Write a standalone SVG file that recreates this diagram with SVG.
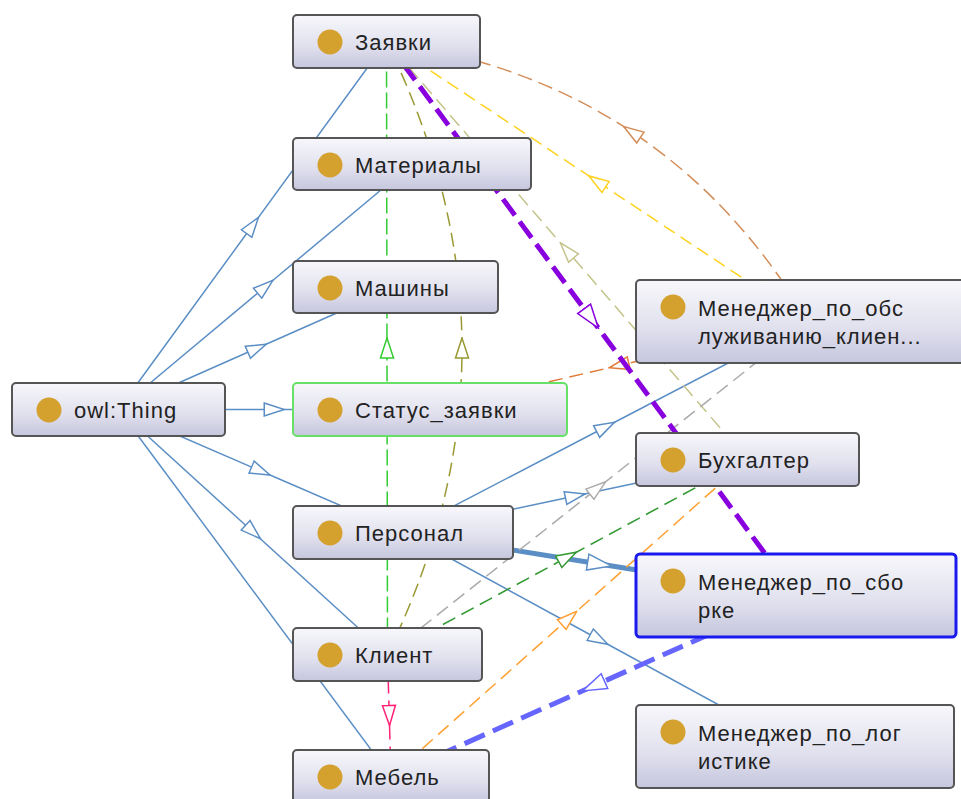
<svg xmlns="http://www.w3.org/2000/svg" width="961" height="799" viewBox="0 0 961 799">
<defs>
<linearGradient id="nodeFill" x1="0" y1="0" x2="0" y2="1">
<stop offset="0" stop-color="#f7f7fb"/>
<stop offset="0.55" stop-color="#e2e2ef"/>
<stop offset="1" stop-color="#c6c6de"/>
</linearGradient>
<marker id="aBlue" viewBox="0 0 22 16" refX="11" refY="8" markerWidth="22" markerHeight="16" markerUnits="userSpaceOnUse" orient="auto"><path d="M1,1.5 L21,8 L1,14.5 Z" fill="#fff" stroke="#5b8ec4" stroke-width="1.5"/></marker>
<marker id="aBlueBig" viewBox="0 0 26 20" refX="13" refY="10" markerWidth="26" markerHeight="20" markerUnits="userSpaceOnUse" orient="auto"><path d="M1,2 L25,10 L1,18 Z" fill="#fff" stroke="#5b8ec4" stroke-width="1.5"/></marker>
<marker id="aGreen" viewBox="0 0 22 16" refX="11" refY="8" markerWidth="22" markerHeight="16" markerUnits="userSpaceOnUse" orient="auto"><path d="M1,1.5 L21,8 L1,14.5 Z" fill="#fff" stroke="#33cc33" stroke-width="1.5"/></marker>
<marker id="aOlive" viewBox="0 0 22 16" refX="11" refY="8" markerWidth="22" markerHeight="16" markerUnits="userSpaceOnUse" orient="auto"><path d="M1,1.5 L21,8 L1,14.5 Z" fill="#fff" stroke="#999933" stroke-width="1.5"/></marker>
<marker id="aKhaki" viewBox="0 0 22 16" refX="11" refY="8" markerWidth="22" markerHeight="16" markerUnits="userSpaceOnUse" orient="auto"><path d="M1,1.5 L21,8 L1,14.5 Z" fill="#fff" stroke="#c4c48a" stroke-width="1.5"/></marker>
<marker id="aYellow" viewBox="0 0 22 16" refX="11" refY="8" markerWidth="22" markerHeight="16" markerUnits="userSpaceOnUse" orient="auto"><path d="M1,1.5 L21,8 L1,14.5 Z" fill="#fff" stroke="#ffd21f" stroke-width="1.5"/></marker>
<marker id="aBrown" viewBox="0 0 22 16" refX="11" refY="8" markerWidth="22" markerHeight="16" markerUnits="userSpaceOnUse" orient="auto"><path d="M1,1.5 L21,8 L1,14.5 Z" fill="#fff" stroke="#d38d58" stroke-width="1.5"/></marker>
<marker id="aOrangeDk" viewBox="0 0 22 16" refX="11" refY="8" markerWidth="22" markerHeight="16" markerUnits="userSpaceOnUse" orient="auto"><path d="M1,1.5 L21,8 L1,14.5 Z" fill="#fff" stroke="#e07a36" stroke-width="1.5"/></marker>
<marker id="aGray" viewBox="0 0 22 16" refX="11" refY="8" markerWidth="22" markerHeight="16" markerUnits="userSpaceOnUse" orient="auto"><path d="M1,1.5 L21,8 L1,14.5 Z" fill="#fff" stroke="#aaaaaa" stroke-width="1.5"/></marker>
<marker id="aDkGreen" viewBox="0 0 22 16" refX="11" refY="8" markerWidth="22" markerHeight="16" markerUnits="userSpaceOnUse" orient="auto"><path d="M1,1.5 L21,8 L1,14.5 Z" fill="#fff" stroke="#339933" stroke-width="1.5"/></marker>
<marker id="aOrange" viewBox="0 0 22 16" refX="11" refY="8" markerWidth="22" markerHeight="16" markerUnits="userSpaceOnUse" orient="auto"><path d="M1,1.5 L21,8 L1,14.5 Z" fill="#fff" stroke="#ffa033" stroke-width="1.5"/></marker>
<marker id="aPink" viewBox="0 0 22 16" refX="11" refY="8" markerWidth="22" markerHeight="16" markerUnits="userSpaceOnUse" orient="auto"><path d="M1,1.5 L21,8 L1,14.5 Z" fill="#fff" stroke="#ff2277" stroke-width="1.5"/></marker>
<marker id="aPurple" viewBox="0 0 26 20" refX="13" refY="10" markerWidth="26" markerHeight="20" markerUnits="userSpaceOnUse" orient="auto"><path d="M1,2 L25,10 L1,18 Z" fill="#fff" stroke="#8800dd" stroke-width="1.5"/></marker>
<marker id="aViolet" viewBox="0 0 26 20" refX="13" refY="10" markerWidth="26" markerHeight="20" markerUnits="userSpaceOnUse" orient="auto"><path d="M1,2 L25,10 L1,18 Z" fill="#fff" stroke="#6666ff" stroke-width="1.5"/></marker>
</defs>
<style>
.e{fill:none}
.sub{stroke:#5b8ec4;stroke-width:1.5;marker-mid:url(#aBlue)}
.node rect{fill:url(#nodeFill);stroke:#555;stroke-width:2}
.node circle{fill:#d4a02e}
.node text{font-family:"Liberation Sans",Arial,sans-serif;font-size:22px;letter-spacing:1px;fill:#222}
</style>
<rect width="961" height="799" fill="#fff"/>
<g id="connectors">
<path class="e sub" d="M118.5,409.5 L252.5,225.5 L386.5,41.5"/>
<path class="e sub" d="M118.5,409.5 L265.25,286.75 L412,164"/>
<path class="e sub" d="M118.5,409.5 L257,348.25 L395.5,287"/>
<path class="e sub" d="M118.5,409.5 L274.25,409.5 L430,409.5"/>
<path class="e sub" d="M118.5,409.5 L260.75,471 L403,532.5"/>
<path class="e sub" d="M118.5,409.5 L253,532 L387.5,654.5"/>
<path class="e" d="M118.5,409.5 L391,776.5" stroke="#5b8ec4" stroke-width="1.5"/>
<path class="e sub" d="M403,532.5 L605.5,427 L808,321.5"/>
<path class="e sub" d="M403,532.5 L575.25,496 L747.5,459.5"/>
<path class="e sub" d="M403,532.5 L599,639.5 L795,746.5"/>
<path class="e" d="M403,532.5 L599.5,564 L796,595.5" stroke="#5b8ec4" stroke-width="5" marker-mid="url(#aBlueBig)"/>
<path class="e" d="M387.5,654.5 L387,348 L386.5,41.5" stroke="#33cc33" stroke-width="1.5" stroke-dasharray="16 5" marker-mid="url(#aGreen)"/>
<path class="e" d="M387.5,654.5 Q462.25,501.25 462,348 Q461.75,194.75 386.5,41.5" stroke="#999933" stroke-width="1.5" stroke-dasharray="14 7" marker-mid="url(#aOlive)"/>
<path class="e" d="M747.5,459.5 L567,250.5 L386.5,41.5" stroke="#c4c48a" stroke-width="1.5" stroke-dasharray="14 7" marker-mid="url(#aKhaki)"/>
<path class="e" d="M808,321.5 L597.25,181.5 L386.5,41.5" stroke="#ffd21f" stroke-width="1.5" stroke-dasharray="13 7" marker-mid="url(#aYellow)"/>
<path class="e" d="M808,321.5 Q737.4,202 632,132 Q526.6,62 386.5,41.5" stroke="#d38d58" stroke-width="1.5" stroke-dasharray="15 7" marker-mid="url(#aBrown)"/>
<path class="e" d="M808,321.5 L619,365.5 L430,409.5" stroke="#e07a36" stroke-width="1.5" stroke-dasharray="14 7" marker-mid="url(#aOrangeDk)"/>
<path class="e" d="M387.5,654.5 L597.75,488 L808,321.5" stroke="#aaaaaa" stroke-width="1.5" stroke-dasharray="14 7" marker-mid="url(#aGray)"/>
<path class="e" d="M387.5,654.5 L567.5,557 L747.5,459.5" stroke="#339933" stroke-width="1.5" stroke-dasharray="14 7" marker-mid="url(#aDkGreen)"/>
<path class="e" d="M391,776.5 L569.25,618 L747.5,459.5" stroke="#ffa033" stroke-width="1.5" stroke-dasharray="14 7" marker-mid="url(#aOrange)"/>
<path class="e" d="M387.5,654.5 L389.25,715.5 L391,776.5" stroke="#ff2277" stroke-width="1.5" stroke-dasharray="16 7" marker-mid="url(#aPink)"/>
<path class="e" d="M386.5,41.5 L591.25,318.5 L796,595.5" stroke="#8800dd" stroke-width="5" stroke-dasharray="20 8" marker-mid="url(#aPurple)"/>
<path class="e" d="M796,595.5 L593.5,686 L391,776.5" stroke="#6666ff" stroke-width="5" stroke-dasharray="22 9" marker-mid="url(#aViolet)"/>
</g>
<g id="n-zayavki" class="node"><rect x="293" y="15" width="187" height="53" rx="4"/><circle cx="330" cy="42" r="12.5"/><text x="355" y="50">Заявки</text></g>
<g id="n-materialy" class="node"><rect x="293" y="138" width="238" height="52" rx="4"/><circle cx="330" cy="165" r="12.5"/><text x="355" y="173">Материалы</text></g>
<g id="n-mashiny" class="node"><rect x="293" y="261" width="205" height="52" rx="4"/><circle cx="330" cy="288" r="12.5"/><text x="355" y="296">Машины</text></g>
<g id="n-status" class="node"><rect x="293" y="383" width="274" height="53" rx="4" style="stroke:#66e066"/><circle cx="330" cy="410" r="12.5"/><text x="355" y="418">Статус_заявки</text></g>
<g id="n-thing" class="node"><rect x="12" y="383" width="213" height="53" rx="4"/><circle cx="49" cy="410" r="12.5"/><text x="74" y="418">owl:Thing</text></g>
<g id="n-personal" class="node"><rect x="293" y="506" width="220" height="53" rx="4"/><circle cx="330" cy="533" r="12.5"/><text x="355" y="541">Персонал</text></g>
<g id="n-klient" class="node"><rect x="293" y="628" width="189" height="53" rx="4"/><circle cx="330" cy="655" r="12.5"/><text x="355" y="663">Клиент</text></g>
<g id="n-mebel" class="node"><rect x="293" y="750" width="196" height="53" rx="4"/><circle cx="330" cy="777" r="12.5"/><text x="355" y="785">Мебель</text></g>
<g id="n-obsl" class="node"><rect x="636" y="280" width="344" height="83" rx="4"/><circle cx="673" cy="307" r="12.5"/><text x="698" y="316">Менеджер_по_обс</text><text x="698" y="344">луживанию_клиен...</text></g>
<g id="n-buh" class="node"><rect x="636" y="433" width="223" height="53" rx="4"/><circle cx="673" cy="460" r="12.5"/><text x="698" y="468">Бухгалтер</text></g>
<g id="n-sborka" class="node"><rect x="636" y="554" width="320" height="83" rx="4" style="stroke:#1a1aee;stroke-width:3"/><circle cx="673" cy="581" r="12.5"/><text x="698" y="590">Менеджер_по_сбо</text><text x="698" y="618">рке</text></g>
<g id="n-logist" class="node"><rect x="636" y="705" width="318" height="83" rx="4"/><circle cx="673" cy="732" r="12.5"/><text x="698" y="741">Менеджер_по_лог</text><text x="698" y="769">истике</text></g>
</svg>
